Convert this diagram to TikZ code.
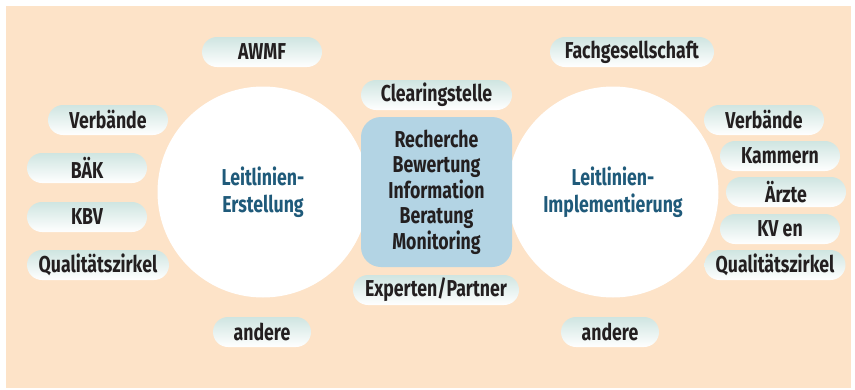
\documentclass[tikz,border=0pt]{standalone}
\usepackage{fontspec}
\setmainfont[FakeStretch=0.77]{Fira Sans}
\definecolor{peach}{HTML}{FDE3C8}
\definecolor{pilltop}{HTML}{CFE5E1}
\definecolor{boxblue}{HTML}{B3D4E4}
\definecolor{leitblue}{HTML}{1F5A7A}
\definecolor{ink}{HTML}{231F20}
\begin{document}
\begin{tikzpicture}[x=1pt, y=-1pt,
    pill/.style={rounded corners=15pt, top color=pilltop, bottom color=white,
      minimum height=30pt, minimum width=120pt, inner sep=0pt, text=ink,
      font=\fontsize{23}{25}\selectfont\bfseries},
    bigcirc/.style={circle, fill=white, minimum size=211pt, inner sep=0pt,
      align=center, text=leitblue, font=\fontsize{23}{27}\selectfont\bfseries}]
  \useasboundingbox (0,0) rectangle (855,389);
  \fill[peach] (6,6) rectangle (851,388);

  % two circles and the box between them
  \node[bigcirc] (erst) at (263,192) {Leitlinien-\\Erstellung};
  \node[bigcirc] (impl) at (613,192) {Leitlinien-\\Implementierung};
  \node[fill=boxblue, rounded corners=20pt, minimum width=151pt,
    minimum height=150pt, align=center, text=ink,
    font=\fontsize{23}{25.5}\selectfont\bfseries] (mitte) at (436.5,192)
    {Recherche\\Bewertung\\Information\\Beratung\\Monitoring};

  \begin{scope}[every node/.style={pill}]
    \node (awmf) at (262,52) {AWMF};
    \node[minimum width=164pt] (fach) at (632,52) {Fachgesellschaft};
    \node[minimum width=151pt] (clear) at (436.5,95) {Clearingstelle};
    \node[minimum width=166pt] (exp) at (436,290) {Experten/Partner};
    % left side
    \node (verbl) at (108,120) {Verbände};
    \node (baek) at (87,168) {BÄK};
    \node (kbv) at (87,217) {KBV};
    \node[minimum width=142pt] (qzl) at (98,265) {Qualitätszirkel};
    \node[minimum width=98pt] (andl) at (262,332) {andere};
    % right side
    \node (verbr) at (764,120) {Verbände};
    \node (kamm) at (780,156) {Kammern};
    \node (aerz) at (786,192) {Ärzte};
    \node (kv) at (780,229) {KV en};
    \node[minimum width=141pt] (qzr) at (775,265) {Qualitätszirkel};
    \node[minimum width=98pt] (andr) at (610,332) {andere};
  \end{scope}
\end{tikzpicture}
\end{document}
